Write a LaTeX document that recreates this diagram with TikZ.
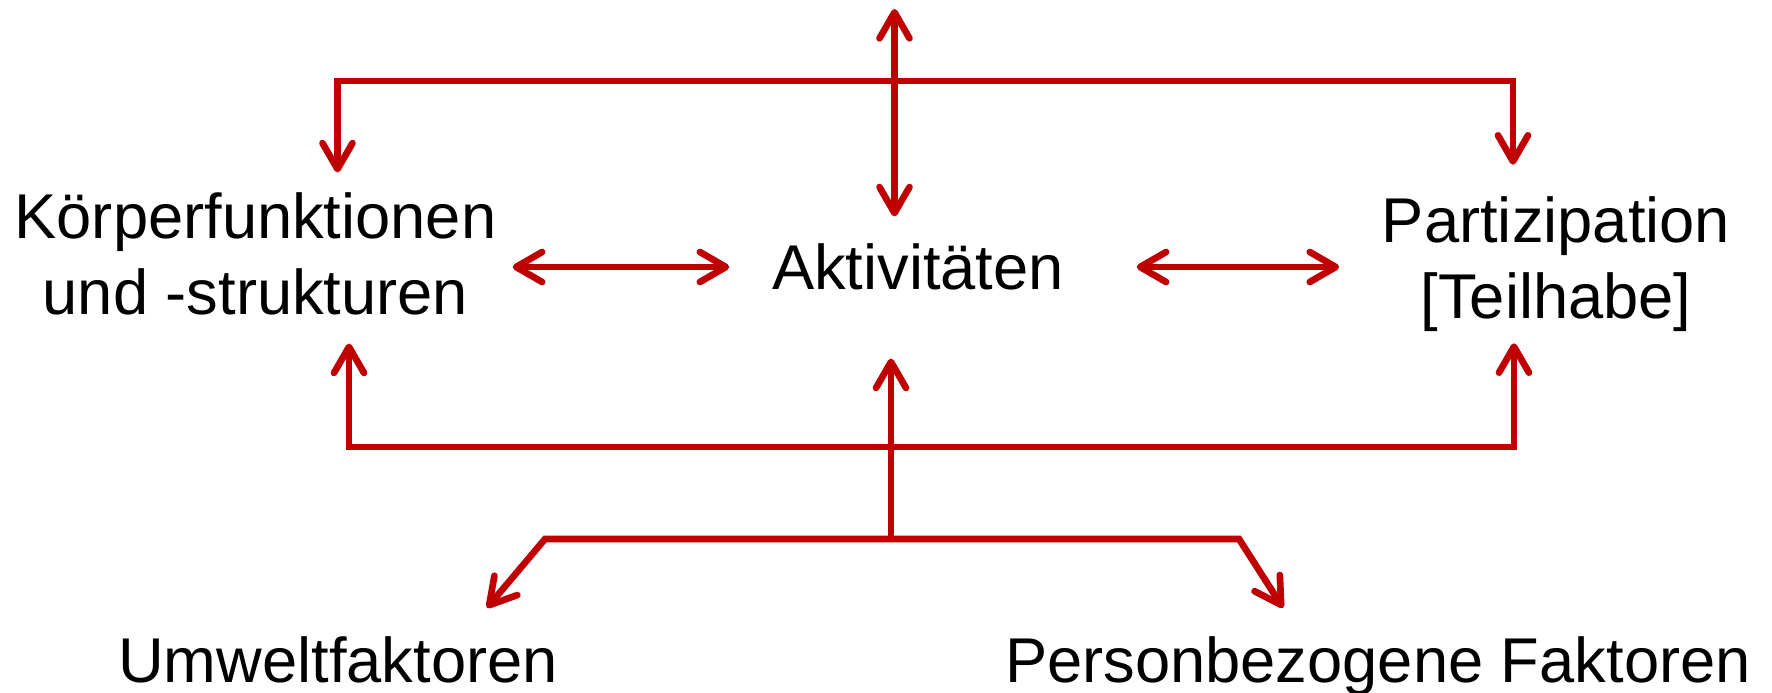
\documentclass[tikz,border=0pt]{standalone}
\usepackage{fontspec}
\setmainfont{Liberation Sans}
\usetikzlibrary{arrows.meta,calc}
\definecolor{icfred}{RGB}{192,0,0}
\tikzset{
  icffig/.style={>={Straight Barb[length=5.2mm,width=6mm,round]},
    every node/.style={font=\fontsize{36}{43.2}\selectfont,align=center,inner sep=0pt}},
  link/.style={draw=icfred,line width=3.8pt},
}

\begin{document}
\begin{tikzpicture}[icffig]
    \useasboundingbox (-18.36,-8.52) rectangle (17.08,5.34);
    \node (akt) at (0,0) {Aktivitäten};
    \node (koerper) at (-13.25,0.26) {Körperfunktionen\\und -strukturen};
    \node (part) at (12.76,0.05) {Partizipation\\{[Teilhabe]}};
    \node[anchor=base] (umwelt) at (-11.6,-8.30) {Umweltfaktoren};
    \node[anchor=base] (person) at (9.2,-8.30) {Personbezogene Faktoren};

    \coordinate (topL) at (-11.61,3.72);
    \coordinate (topR) at (11.9,3.72);
    \coordinate (topC) at (-0.47,5.16);
    \coordinate (botL) at (-11.38,-3.6);
    \coordinate (botR) at (11.92,-3.6);
    \coordinate (lowL) at (-7.46,-5.44);
    \coordinate (lowR) at (6.42,-5.44);
    \coordinate (lowC) at (-0.54,-5.44);

    \draw[link,<->,shorten <=4mm,shorten >=6.4mm]
      (topL |- koerper.north) -- (topL) -- (topR) -- (topR |- part.north);
    \draw[link,<->,shorten >=5.4mm] (topC) -- (topC |- akt.north);
    \draw[link,<->,shorten <=3.2mm,shorten >=8.5mm] (koerper.east |- akt) -- (akt.west);
    \draw[link,<->,shorten <=14.5mm,shorten >=8.5mm] (akt.east) -- (part.west |- akt);

    \draw[link,<->,shorten <=5.6mm,shorten >=2.2mm]
      (botL |- koerper.south) -- (botL) -- (botR) -- (botR |- part.south);
    \draw[link,->,shorten >=13.6mm] (lowC) -- (lowC |- akt.south);
    \draw[link,<->] ([xshift=2.98cm,yshift=5.6mm]umwelt.north) -- (lowL)
      -- (lowR) -- ([xshift=-1.9cm,yshift=5.6mm]person.north);
\end{tikzpicture}
\end{document}
